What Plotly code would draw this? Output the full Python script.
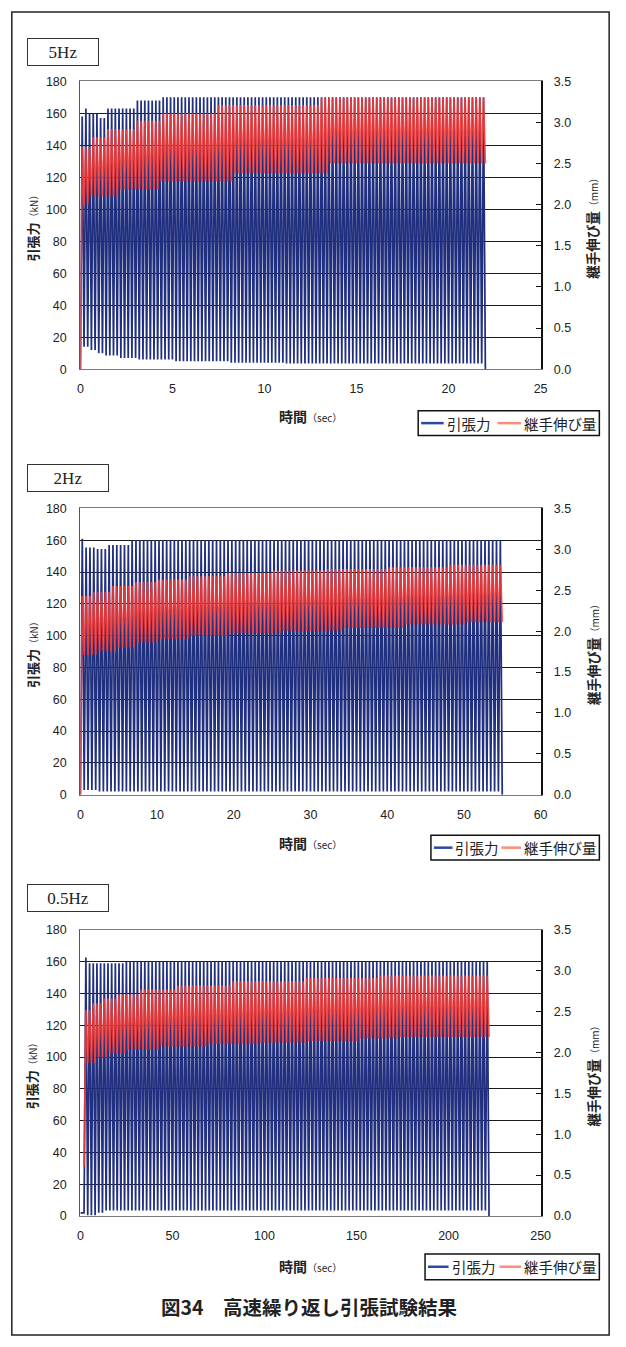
import plotly.graph_objects as go

W, H = 626, 1347

# ---------------- chart meta ----------------
PANEL_LABELS = ["5Hz", "2Hz", "0.5Hz"]
FREQ_HZ = [5.0, 2.0, 0.5]            # loading frequency of each test
CYCLE_START_SEC = [0.0, 0.0, 2.0]    # time at which cycling starts
X_TICK_STEP = [5, 10, 50]
X_MAX = [25, 60, 250]
FORCE_MAX, FORCE_STEP = 180, 20
DISP_MAX, DISP_STEP = 3.5, 0.5
SERIES_NAMES = ["引張力", "継手伸び量"]
X_TITLE = "時間"
X_UNIT = "（sec）"
Y1_TITLE, Y1_UNIT = "引張力", "（kN）"
Y2_TITLE, Y2_UNIT = "継手伸び量", "（mm）"
FIG_TITLE = "図34　高速繰り返し引張試験結果"

# ---------------- data: per-cycle peak / trough values as (count, value) runs ----------------
# 5 Hz
F5_LEAD_T, F5_LEAD_V = [0.0], [0.0]
F5_PEAK_RUNS = [(1, 158), (1, 163), (3, 160), (2, 157), (8, 163), (7, 168), (88, 170)]
F5_TROUGH_RUNS = [(2, 14), (2, 12), (2, 10), (4, 8.5), (5, 7), (10, 6), (15, 5), (15, 4), (54, 3.5), (1, 0)]
D5_LEAD_T, D5_LEAD_V = [0.0], [0.0]
D5_PEAK_RUNS = [(3, 2.70), (4, 2.82), (8, 2.92), (7, 3.02), (15, 3.11), (28, 3.21), (45, 3.30)]
D5_TROUGH_RUNS = [(2, 2.00), (8, 2.10), (11, 2.18), (20, 2.28), (26, 2.38), (43, 2.50)]

# 2 Hz
F2_LEAD_T, F2_LEAD_V = [0.0], [0.0]
F2_PEAK_RUNS = [(1, 161), (3, 155.5), (3, 154.5), (6, 157), (97, 160)]
F2_TROUGH_RUNS = [(4, 3), (105, 2), (1, 0)]
D2_LEAD_T, D2_LEAD_V = [0.0], [0.0]
D2_PEAK_RUNS = [(3, 2.43), (5, 2.48), (6, 2.55), (6, 2.60), (8, 2.63), (10, 2.67),
                (12, 2.71), (14, 2.74), (16, 2.76), (16, 2.78), (14, 2.81)]
D2_TROUGH_RUNS = [(4, 1.71), (5, 1.75), (5, 1.80), (6, 1.86), (8, 1.90), (10, 1.94),
                  (14, 1.97), (16, 2.00), (16, 2.04), (16, 2.08), (10, 2.11)]

# 0.5 Hz
F05_LEAD_T, F05_LEAD_V = [0.0, 2.0], [2.0, 2.0]
F05_PEAK_RUNS = [(1, 162.5), (10, 159), (99, 160)]
F05_TROUGH_RUNS = [(3, 0.5), (2, 2), (104, 3.5), (1, 0)]
D05_LEAD_T, D05_LEAD_V = [2.0], [0.6]
D05_PEAK_RUNS = [(2, 2.52), (3, 2.60), (4, 2.66), (6, 2.71), (10, 2.77), (15, 2.82),
                 (20, 2.87), (20, 2.91), (30, 2.94)]
D05_TROUGH_RUNS = [(3, 1.87), (3, 1.94), (5, 1.99), (9, 2.03), (13, 2.07), (14, 2.10),
                   (13, 2.12), (14, 2.14), (11, 2.17), (25, 2.19)]

# ---------------- styles ----------------
BLUE = "#22307f"
RED = "#ff3a30"
BLUE_LEG = "#2a48a8"
RED_LEG = "#ff8c78"
TICK_FONT = dict(family="Liberation Sans, Arial, sans-serif", size=12.5, color="#222")
JP = "Noto Sans CJK JP, sans-serif"


def expand(runs):
    out = []
    for n, v in runs:
        out += [v] * n
    return out


def cycle_series(lead_t, lead_v, t0, f, peak_runs, trough_runs):
    ts, vs = list(lead_t), list(lead_v)
    peaks, troughs = expand(peak_runs), expand(trough_runs)
    for k, (p, q) in enumerate(zip(peaks, troughs)):
        ts.append(t0 + (k + 0.5) / f)
        vs.append(p)
        ts.append(t0 + (k + 1) / f)
        vs.append(q)
    return ts, vs


PANELS = [
    (F5_LEAD_T, F5_LEAD_V, F5_PEAK_RUNS, F5_TROUGH_RUNS, D5_LEAD_T, D5_LEAD_V, D5_PEAK_RUNS, D5_TROUGH_RUNS),
    (F2_LEAD_T, F2_LEAD_V, F2_PEAK_RUNS, F2_TROUGH_RUNS, D2_LEAD_T, D2_LEAD_V, D2_PEAK_RUNS, D2_TROUGH_RUNS),
    (F05_LEAD_T, F05_LEAD_V, F05_PEAK_RUNS, F05_TROUGH_RUNS, D05_LEAD_T, D05_LEAD_V, D05_PEAK_RUNS, D05_TROUGH_RUNS),
]


def px(x):
    return x / W


def py(y):
    return 1 - y / H


PLOT_X = (79, 549)
PLOT_Y = [(75, 366), (506.7, 796), (932.5, 1221.7)]
LABEL_BOX = [(61, 45, 68), (66, 476, 78), (66, 900, 78)]   # cx, cy, width
XTITLE_Y = [413, 845, 1272]
# legend: box left, top, bottom, blue key x0, x1, blue text x, red key x0
LEGEND_LAYOUT = [
    (424, 408, 433, 427, 450, 452, 505),
    (437, 837, 862, 440, 459, 461, 509),
    (431, 1260, 1286, 434, 455, 457, 507),
]
LEGEND_RIGHT = 609
RED_KEY_X1, RED_TEXT_X = 529, 531

fig = go.Figure()
layout = dict(
    width=W, height=H, margin=dict(l=0, r=0, t=0, b=0),
    paper_bgcolor="white", plot_bgcolor="white", showlegend=False,
    annotations=[], shapes=[],
)


def ann(x, y, text, font, **kw):
    d = dict(x=px(x), y=py(y), xref="paper", yref="paper", showarrow=False,
             xanchor="center", yanchor="middle", text=text, font=font)
    d.update(kw)
    return d


def pline(x0, x1, y, color, width):
    return dict(type="line", xref="paper", yref="paper", x0=px(x0), x1=px(x1), y0=py(y), y1=py(y),
                line=dict(color=color, width=width))


for i, (flt, flv, fpr, ftr, dlt, dlv, dpr, dtr) in enumerate(PANELS):
    n = i + 1
    xa = "x" if n == 1 else f"x{n}"
    ya1 = "y" if n == 1 else f"y{2 * n - 1}"
    ya2 = f"y{2 * n}"

    ft, fv = cycle_series(flt, flv, CYCLE_START_SEC[i], FREQ_HZ[i], fpr, ftr)
    dt, dv = cycle_series(dlt, dlv, CYCLE_START_SEC[i], FREQ_HZ[i], dpr, dtr)

    fig.add_trace(go.Scatter(x=ft, y=fv, mode="lines", xaxis=xa, yaxis=ya1, name=SERIES_NAMES[0],
                             line=dict(color=BLUE, width=1.75), hoverinfo="skip"))
    fig.add_trace(go.Scatter(x=dt, y=dv, mode="lines", xaxis=xa, yaxis=ya2, name=SERIES_NAMES[1],
                             line=dict(color=RED, width=1.8), opacity=0.82, hoverinfo="skip"))

    ytop, ybot = PLOT_Y[i]
    xkey = "xaxis" if n == 1 else f"xaxis{n}"
    y1key = "yaxis" if n == 1 else f"yaxis{2 * n - 1}"
    y2key = f"yaxis{2 * n}"
    layout[xkey] = dict(
        domain=[px(PLOT_X[0]), px(PLOT_X[1])], anchor=ya1, range=[0, X_MAX[i]],
        tick0=0, dtick=X_TICK_STEP[i], showgrid=False, zeroline=False,
        showline=True, linecolor="#7a7a7a", linewidth=1.2, mirror=True,
        ticks="", ticklabelstandoff=8, tickfont=TICK_FONT,
    )
    layout[y1key] = dict(
        domain=[py(ybot), py(ytop)], anchor=xa, range=[0, FORCE_MAX],
        tick0=0, dtick=FORCE_STEP, showgrid=True, gridcolor="#1a1a1a", gridwidth=1,
        zeroline=False, showline=True, linecolor="#555", linewidth=1.2,
        ticks="", ticklabelstandoff=10, tickfont=TICK_FONT,
    )
    layout[y2key] = dict(
        overlaying=ya1, side="right", anchor=xa, range=[0, DISP_MAX],
        tick0=0, dtick=DISP_STEP, tickformat=".1f", showgrid=False, zeroline=False,
        showline=True, linecolor="#111", linewidth=1.5,
        ticks="inside", ticklen=5, tickcolor="#111", ticklabelstandoff=9, tickfont=TICK_FONT,
    )

    # legend (box, line keys, labels)
    lx0, lt, lb, bk0, bk1, btx, rk0 = LEGEND_LAYOUT[i]
    lcy = (lt + lb) / 2
    layout["shapes"] += [
        dict(type="rect", xref="paper", yref="paper", x0=px(lx0), x1=px(LEGEND_RIGHT),
             y0=py(lb), y1=py(lt), line=dict(color="#111", width=1.5), fillcolor="white"),
        pline(bk0, bk1, lcy, BLUE_LEG, 2.5),
        pline(rk0, RED_KEY_X1, lcy, RED_LEG, 2.5),
    ]
    lfont = dict(family=JP, size=14.5, color="#222")
    layout["annotations"] += [
        ann(btx, lcy, SERIES_NAMES[0], lfont, xanchor="left", borderpad=0),
        ann(RED_TEXT_X, lcy, SERIES_NAMES[1], lfont, xanchor="left", borderpad=0),
    ]

    cx, cy, bw = LABEL_BOX[i]
    layout["annotations"] += [
        ann(cx, cy, PANEL_LABELS[i],
            dict(family="Liberation Serif, DejaVu Serif, serif", size=17, color="#222"),
            width=bw, height=24, bordercolor="#333", borderwidth=1, bgcolor="white"),
        ann((PLOT_X[0] + PLOT_X[1]) / 2, XTITLE_Y[i],
            f"<b>{X_TITLE}</b><span style='font-size:10px'>{X_UNIT}</span>",
            dict(family=JP, size=14, color="#222")),
        ann(30, (ytop + ybot) / 2,
            f"<b>{Y1_TITLE}</b><span style='font-size:10px'>{Y1_UNIT}</span>",
            dict(family=JP, size=13, color="#222"), textangle=-90),
        ann(602, (ytop + ybot) / 2,
            f"<b>{Y2_TITLE}</b><span style='font-size:10px'>{Y2_UNIT}</span>",
            dict(family=JP, size=13.5, color="#222"), textangle=-90),
    ]

layout["annotations"].append(
    ann(313, 1313, f"<b>{FIG_TITLE}</b>", dict(family=JP, size=19.5, color="#222")))
layout["shapes"].append(
    dict(type="rect", xref="paper", yref="paper", x0=px(9), x1=px(619), y0=py(1342), y1=py(5),
         line=dict(color="#222", width=1.5), layer="below"))

fig.update_layout(**layout)
fig.write_html("out.html")
